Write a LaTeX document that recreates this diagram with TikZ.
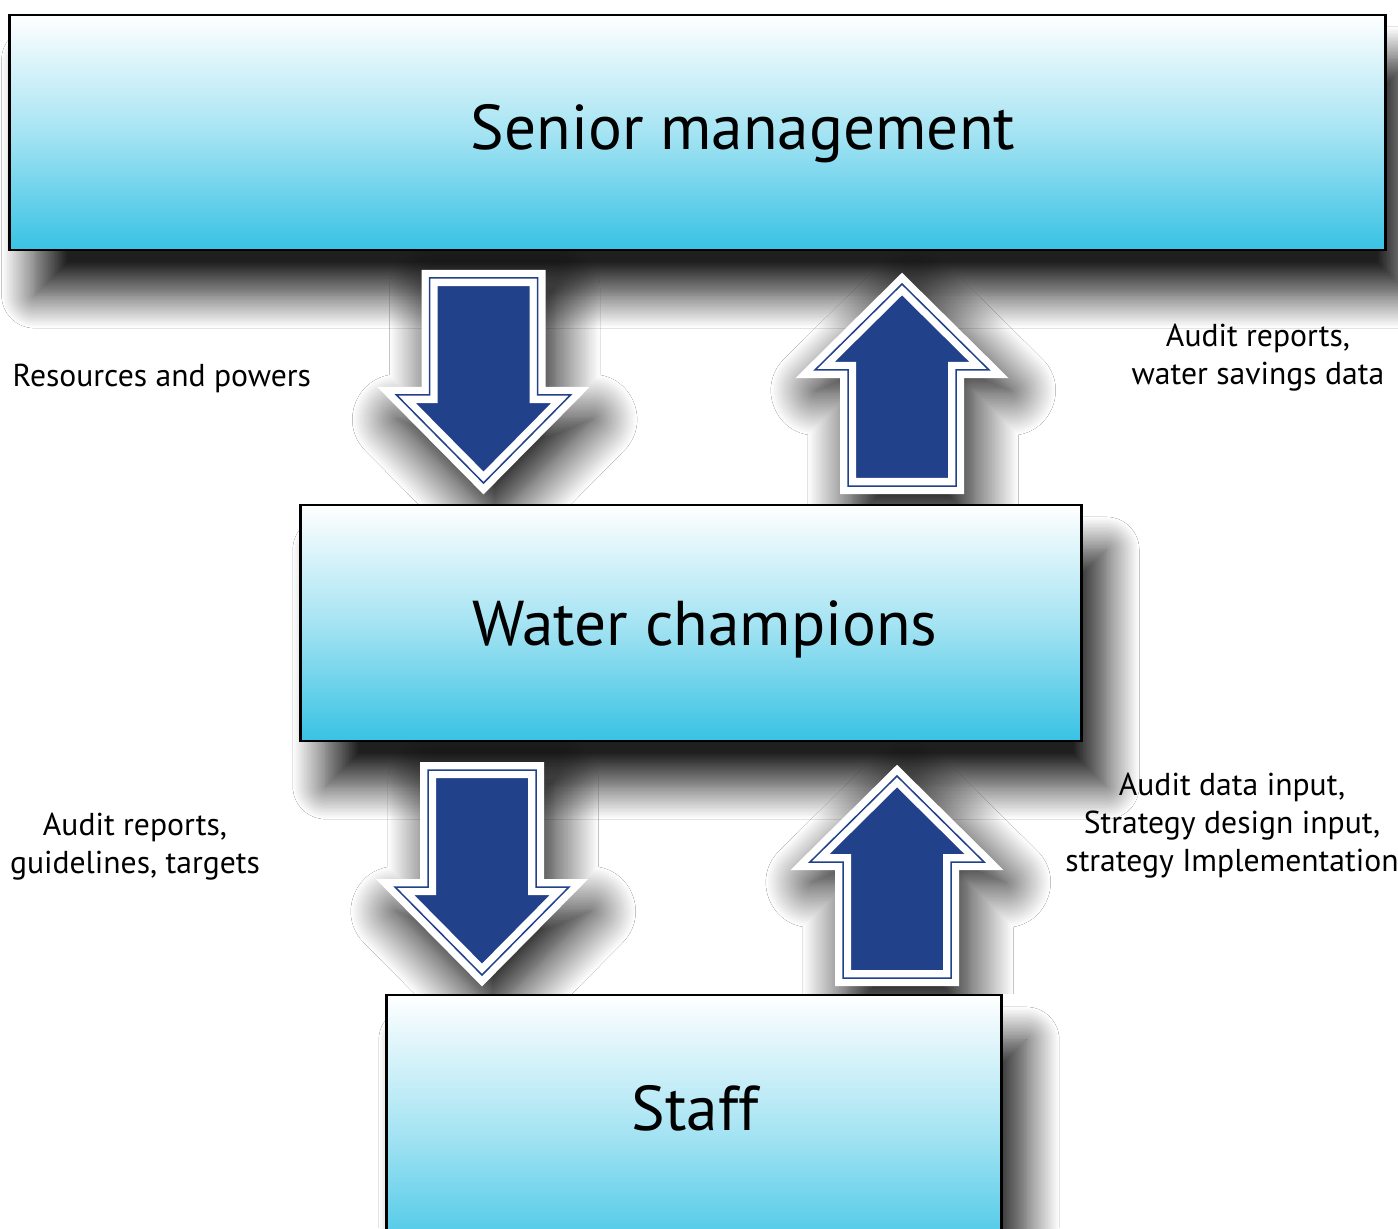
\documentclass[tikz,border=0pt]{standalone}
\usepackage{fontspec}
\setmainfont{PT Sans}
\usetikzlibrary{shadows.blur}

\definecolor{tiercyan}{RGB}{56,194,228}
\definecolor{arrowblue}{RGB}{34,65,139}

\tikzset{
	tier/.style={draw=black, line width=0.8pt, top color=white, bottom color=tiercyan, middle color=tiercyan!45!white,
		blur shadow={shadow xshift=0.25cm, shadow yshift=-0.45cm, shadow blur radius=0.33cm, shadow blur steps=24, shadow opacity=88}},
	tiertext/.style={font=\fontsize{18}{22}\selectfont, anchor=base},
	flowtext/.style={font=\fontsize{9}{10.8}\selectfont, align=center, inner sep=0pt},
	flowarrow/.style={fill=arrowblue, draw=white, line width=0.16cm,
		blur shadow={shadow xshift=0.1cm, shadow yshift=-0.2cm, shadow blur radius=0.4cm, shadow blur steps=24, shadow opacity=100, shadow scale=1.12},
		postaction={draw=arrowblue, line width=0.015cm}},
	pics/downflow/.style={code={
		\path[flowarrow] (-54,0) -- (54,0) -- (54,117) -- (87,117) -- (0,205) -- (-87,117) -- (-54,117) -- cycle;
	}},
	pics/upflow/.style={code={
		\path[flowarrow] (-54,0) -- (54,0) -- (54,-116) -- (87,-116) -- (0,-202) -- (-87,-116) -- (-54,-116) -- cycle;
	}},
}

\begin{document}
\begin{tikzpicture}[x=0.01cm, y=-0.01cm]
	
	% Page area
	\useasboundingbox (0,0) rectangle (1398,1228);
	\clip (0,0) rectangle (1398,1228);
	\fill[white] (0,0) rectangle (1398,1228);
	
	% The three tiers
	\node[tier, minimum width=13.75cm, minimum height=2.35cm] (senior) at (697.5,132.5) {};
	\node[tier, minimum width=7.8cm, minimum height=2.36cm] (water) at (691,623) {};
	\node[tier, minimum width=6.14cm, minimum height=2.75cm] (staff) at (694,1132.5) {};
	
	\node[tiertext] (seniortext) at (743,150) {Senior management};
	\node[tiertext] (watertext) at (705,645) {Water champions};
	\node[tiertext] (stafftext) at (695,1130) {Staff};
	
	% Flows between the tiers, kept inside the gaps
	\begin{scope}
		\clip (senior.south west) rectangle (senior.south east |- water.north);
		\pic (resdown) at (483.5,278) {downflow};
		\pic (reportup) at (902,486) {upflow};
	\end{scope}
	\begin{scope}
		\clip (senior.south west |- water.south) rectangle (senior.south east |- staff.north);
		\pic (guidedown) at (482,770) {downflow};
		\pic (inputup) at (897,978) {upflow};
	\end{scope}
	
	% What each flow carries
	\node[flowtext, anchor=west] (reslabel) at (12,378.5) {Resources and powers};
	\node[flowtext] (reportlabel) at (1258,357.5) {Audit reports,\\water savings data};
	\node[flowtext] (guidelabel) at (135,846.5) {Audit reports,\\guidelines, targets};
	\node[flowtext] (inputlabel) at (1232,826) {Audit data input,\\Strategy design input,\\strategy Implementation};
	
\end{tikzpicture}
\end{document}
